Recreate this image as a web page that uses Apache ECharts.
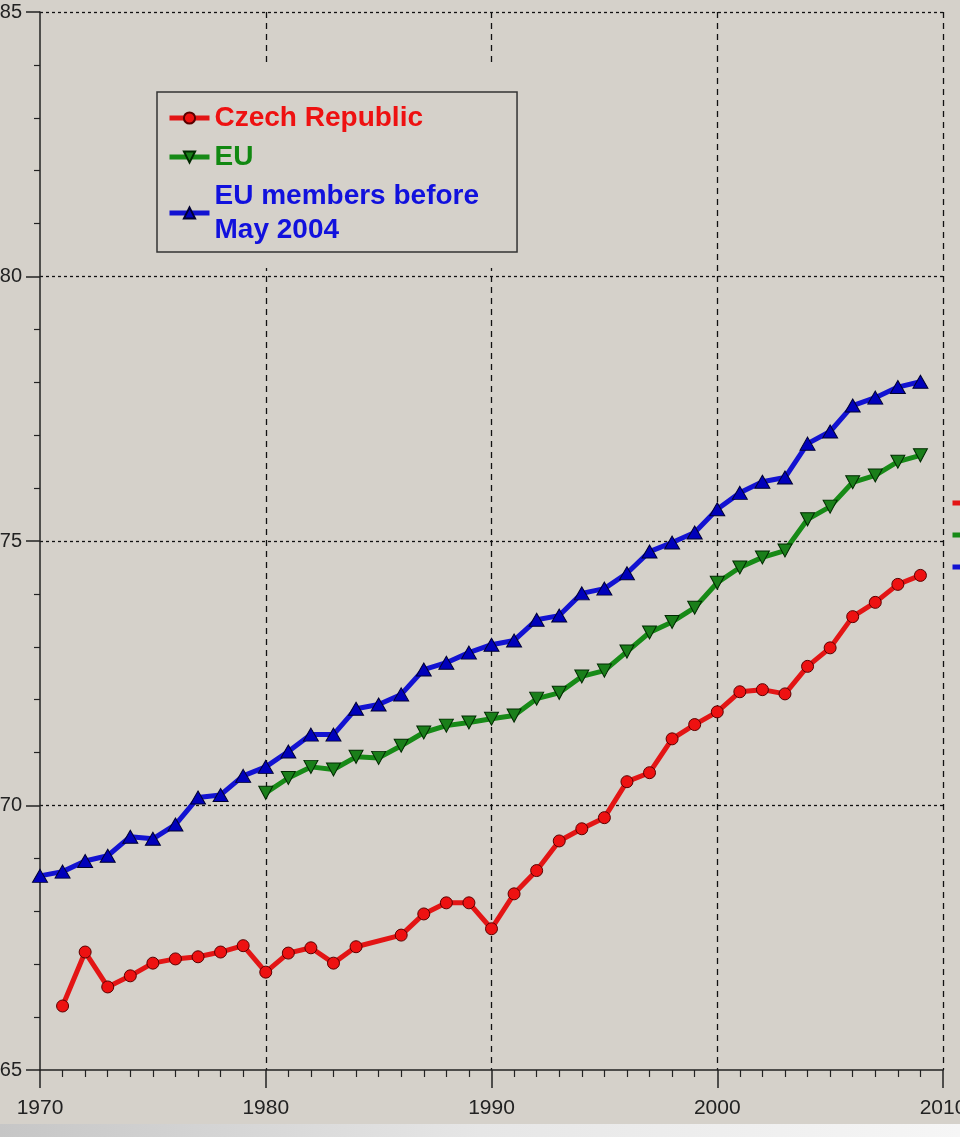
<!DOCTYPE html>
<html>
<head>
<meta charset="utf-8">
<script src="https://cdn.jsdelivr.net/npm/echarts@6/dist/echarts.min.js"></script>
<style>
  html, body { margin: 0; padding: 0; background: #d5d1ca; }
  #chart { width: 960px; height: 1137px; }
</style>
</head>
<body>
<div id="chart"></div>
<script>
const years = [1970,1971,1972,1973,1974,1975,1976,1977,1978,1979,1980,1981,1982,1983,1984,1985,1986,1987,1988,1989,1990,1991,1992,1993,1994,1995,1996,1997,1998,1999,2000,2001,2002,2003,2004,2005,2006,2007,2008,2009];
const czech = [null,66.21,67.23,66.57,66.78,67.02,67.10,67.14,67.23,67.35,66.85,67.21,67.31,67.02,67.33,null,67.55,67.95,68.16,68.16,67.67,68.33,68.77,69.33,69.56,69.77,70.45,70.62,71.26,71.53,71.77,72.15,72.19,72.11,72.63,72.98,73.57,73.84,74.18,74.35];
const eu = [null,null,null,null,null,null,null,null,null,null,70.24,70.52,70.73,70.68,70.92,70.90,71.13,71.38,71.51,71.57,71.64,71.70,72.02,72.13,72.44,72.55,72.91,73.27,73.47,73.74,74.21,74.50,74.69,74.82,75.41,75.65,76.11,76.24,76.50,76.62];
const euBefore = [68.67,68.75,68.95,69.05,69.41,69.37,69.64,70.15,70.20,70.56,70.73,71.02,71.34,71.34,71.83,71.91,72.10,72.57,72.70,72.89,73.04,73.12,73.51,73.59,74.01,74.10,74.39,74.80,74.97,75.16,75.60,75.91,76.12,76.20,76.84,77.07,77.56,77.71,77.91,78.01];
const seriesNames = ['Czech Republic', 'EU', 'EU members before\nMay 2004'];
const xTicks = [1970, 1980, 1990, 2000, 2010];
const yTicks = [65, 70, 75, 80, 85];

const pair = arr => years.map((y, i) => [y, arr[i]]);
const downTri = 'path://M0,0 L10,0 L5,9 Z';
const axisColor = '#222';
const labelFont = "'Liberation Sans Narrow', 'Arial Narrow', 'Liberation Sans', Arial, sans-serif";

const chart = echarts.init(document.getElementById('chart'), null, { renderer: 'canvas' });
chart.setOption({
  backgroundColor: '#d5d1ca',
  animation: false,
  grid: { left: 40, right: 17, top: 12, bottom: 67, containLabel: false, outerBoundsMode: 'none' },
  graphic: [
    { type: 'rect', z: 1, shape: { x: 150, y: 66, width: 380, height: 202 }, style: { fill: '#d5d1ca' }, silent: true },
    { type: 'rect', z: 1, shape: { x: 0, y: 1124, width: 960, height: 13 },
      style: { fill: new echarts.graphic.LinearGradient(0, 0, 1, 0, [
        { offset: 0, color: '#c6c6c6' }, { offset: 0.5, color: '#e6e6e6' }, { offset: 1, color: '#f6f6f6' }
      ]) }, silent: true }
  ],
  legend: [
    {
      z: 5,
      orient: 'vertical',
      left: 157, top: 92,
      padding: [9, 38, 5, 10],
      itemGap: 5,
      itemWidth: 40, itemHeight: 14,
      itemTextGap: 13,
      lineStyle: { width: 5 },
      backgroundColor: '#d5d1ca',
      borderColor: '#333', borderWidth: 1.5,
      textStyle: { fontFamily: "'Liberation Sans', Arial, sans-serif", fontWeight: 'bold', fontSize: 28, lineHeight: 34 },
      data: [
        { name: seriesNames[0], textStyle: { color: '#ee1111' } },
        { name: seriesNames[1], textStyle: { color: '#118811' } },
        { name: seriesNames[2], textStyle: { color: '#1111dd' } }
      ]
    },
    {
      z: 5,
      orient: 'vertical',
      left: 950, top: 495,
      padding: 0,
      itemGap: 16,
      itemWidth: 40, itemHeight: 16,
      lineStyle: { width: 5 },
      formatter: name => name.replace('\n', ' '),
      textStyle: { fontSize: 14, lineHeight: 16, color: '#222' },
      data: seriesNames
    }
  ],
  xAxis: {
    type: 'value', min: 1970, max: 2010, interval: 10,
    axisLine: { show: true, onZero: false, lineStyle: { color: axisColor, width: 1.5 } },
    axisTick: { show: true, length: 18, lineStyle: { color: axisColor, width: 1.5 } },
    minorTick: { show: true, splitNumber: 10, length: 7, lineStyle: { color: axisColor, width: 1.2 } },
    axisLabel: { margin: 28, fontSize: 21, fontFamily: labelFont, color: axisColor,
      formatter: v => xTicks.includes(v) ? String(v) : '' },
    splitLine: { show: true, showMinLine: false, lineStyle: { color: '#111', width: 1.3, type: [6, 5] } }
  },
  yAxis: {
    type: 'value', min: 65, max: 85, interval: 5,
    axisLine: { show: true, onZero: false, lineStyle: { color: axisColor, width: 1.5 } },
    axisTick: { show: true, length: 14, lineStyle: { color: axisColor, width: 1.5 } },
    minorTick: { show: true, splitNumber: 5, length: 6, lineStyle: { color: axisColor, width: 1.2 } },
    axisLabel: { margin: 18, fontSize: 20, fontFamily: labelFont, color: axisColor,
      formatter: v => yTicks.includes(v) ? String(v) : '' },
    splitLine: { show: true, showMinLine: false, lineStyle: { color: '#111', width: 1.3, type: [3, 3] } }
  },
  series: [
    {
      name: seriesNames[0], type: 'line', z: 3, connectNulls: true,
      data: pair(czech),
      symbol: 'circle', symbolSize: 12,
      lineStyle: { color: '#e31515', width: 5 },
      itemStyle: { color: '#ee1111', borderColor: '#5a0000', borderWidth: 1 }
    },
    {
      name: seriesNames[1], type: 'line', z: 3,
      data: pair(eu),
      symbol: downTri, symbolSize: [14, 13],
      lineStyle: { color: '#178a17', width: 5 },
      itemStyle: { color: '#1a7f1a', borderColor: '#002a00', borderWidth: 1 }
    },
    {
      name: seriesNames[2], type: 'line', z: 3,
      data: pair(euBefore),
      symbol: 'triangle', symbolSize: [15, 13],
      lineStyle: { color: '#1212d2', width: 5 },
      itemStyle: { color: '#0000bb', borderColor: '#000033', borderWidth: 1 }
    }
  ]
});
</script>
</body>
</html>
